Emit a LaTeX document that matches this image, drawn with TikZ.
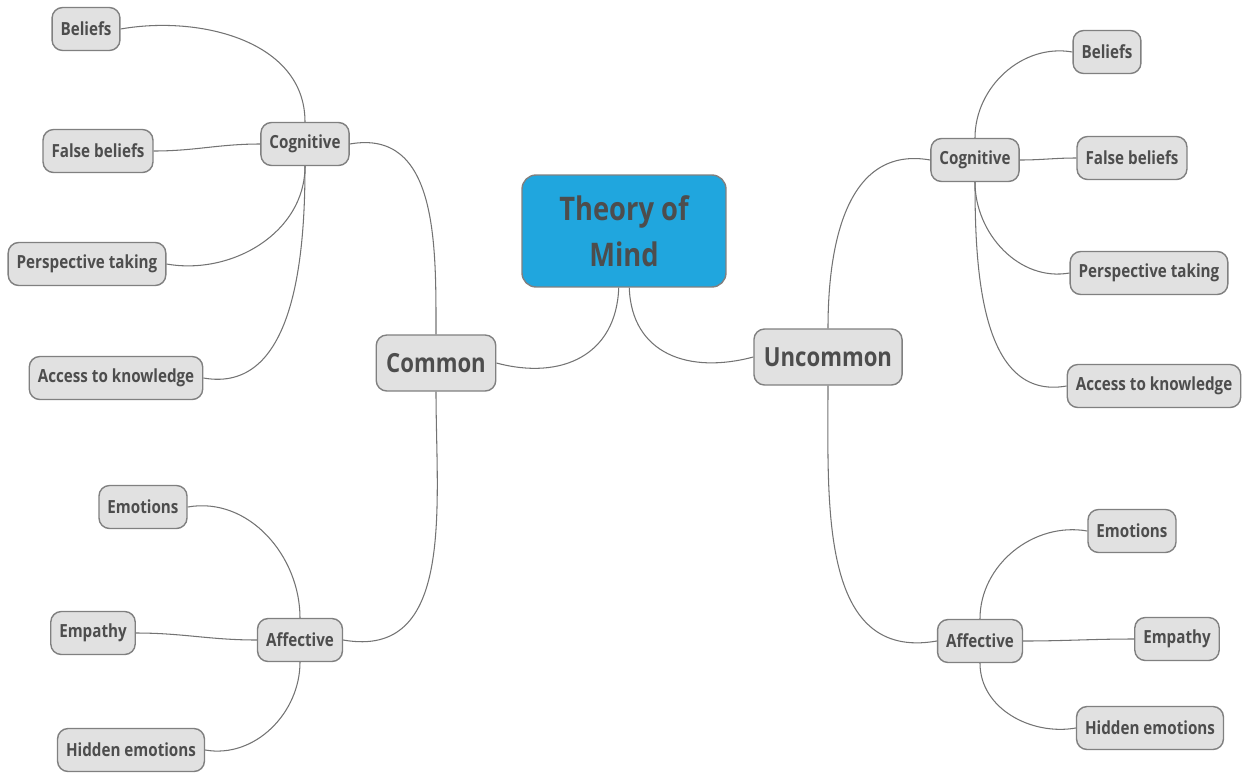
\documentclass[tikz,border=0pt]{standalone}
\usepackage{fontspec}
\setmainfont{Open Sans}[FakeStretch=0.84]
\usepackage{xcolor}
\usepackage{tikz}
\usetikzlibrary{positioning, calc}

\definecolor{txtgray}{HTML}{4D4D4D}
\definecolor{boxgray}{HTML}{E1E1E1}
\definecolor{edgegray}{HTML}{808080}
\definecolor{rootblue}{HTML}{20A6DE}

\tikzset{
    leaf/.style={draw=edgegray, fill=boxgray, rounded corners=6pt, line width=0.8pt,
        font=\fontsize{10.3}{12}\selectfont\bfseries, text=txtgray,
        minimum height=0.86cm, inner xsep=0.17cm},
    branch/.style={leaf},
    side/.style={leaf, font=\fontsize{15}{18}\selectfont\bfseries,
        minimum height=1.12cm, inner xsep=0.2cm},
    root/.style={draw=edgegray, fill=rootblue, rounded corners=8pt, line width=0.8pt,
        font=\fontsize{18.5}{26}\selectfont\bfseries, text=txtgray, align=center,
        minimum width=4.08cm, minimum height=2.24cm},
    link/.style={draw=edgegray!90!black, line width=0.6pt}
}

\begin{document}
\begin{tikzpicture}[x=0.02cm, y=0.02cm]
    \useasboundingbox (0,0) rectangle (1249,-772);

    % Root and both sides
    \node[root] (tom) at (624,-231) {Theory of\\Mind};
    \node[side] (common) at (436,-363) {Common};
    \node[side] (uncommon) at (828,-357) {Uncommon};

    % Branch nodes
    \node[branch] (cogL) at (305,-144) {Cognitive};
    \node[branch] (affL) at (300,-640) {Affective};
    \node[branch] (cogR) at (975,-160) {Cognitive};
    \node[branch] (affR) at (980,-641) {Affective};

    % Leaves - left
    \node[leaf] (belL) at (86,-29) {Beliefs};
    \node[leaf] (falL) at (98,-151) {False beliefs};
    \node[leaf] (perL) at (87,-264) {Perspective taking};
    \node[leaf] (accL) at (116,-378) {Access to knowledge};
    \node[leaf] (emoL) at (143,-507) {Emotions};
    \node[leaf] (empL) at (93,-633) {Empathy};
    \node[leaf] (hidL) at (131,-750) {Hidden emotions};

    % Leaves - right
    \node[leaf] (belR) at (1107,-52) {Beliefs};
    \node[leaf] (falR) at (1132,-158) {False beliefs};
    \node[leaf] (perR) at (1149,-273) {Perspective taking};
    \node[leaf] (accR) at (1154,-386) {Access to knowledge};
    \node[leaf] (emoR) at (1132,-531) {Emotions};
    \node[leaf] (empR) at (1177,-639) {Empathy};
    \node[leaf] (hidR) at (1150,-728) {Hidden emotions};

    % Root links
    \draw[link] ([xshift=-3pt]tom.south) to[out=-92,in=-15,looseness=1.2] (common.east);
    \draw[link] ([xshift=3pt]tom.south) to[out=-88,in=195,looseness=1.2] (uncommon.west);

    % Side links
    \draw[link] (common.north) to[out=90,in=10,looseness=1.1] (cogL.east);
    \draw[link] (common.south) to[out=-90,in=-10,looseness=1.1] (affL.east);
    \draw[link] (uncommon.north) to[out=90,in=170,looseness=1.1] (cogR.west);
    \draw[link] (uncommon.south) to[out=-90,in=190,looseness=1.1] (affR.west);

    % Left cognitive
    \draw[link] (cogL.north) to[out=90,in=10] (belL.east);
    \draw[link] (cogL.west) to[out=180,in=0] (falL.east);
    \draw[link] (cogL.south) to[out=-90,in=-10] (perL.east);
    \draw[link] (cogL.south) to[out=-90,in=-10] (accL.east);

    % Left affective
    \draw[link] (affL.north) to[out=90,in=10] (emoL.east);
    \draw[link] (affL.west) to[out=180,in=0] (empL.east);
    \draw[link] (affL.south) to[out=-90,in=-10] (hidL.east);

    % Right cognitive
    \draw[link] (cogR.north) to[out=90,in=170] (belR.west);
    \draw[link] (cogR.east) to[out=0,in=180] (falR.west);
    \draw[link] (cogR.south) to[out=-90,in=190] (perR.west);
    \draw[link] (cogR.south) to[out=-90,in=190] (accR.west);

    % Right affective
    \draw[link] (affR.north) to[out=90,in=170] (emoR.west);
    \draw[link] (affR.east) to[out=0,in=180] (empR.west);
    \draw[link] (affR.south) to[out=-90,in=190] (hidR.west);
\end{tikzpicture}
\end{document}
